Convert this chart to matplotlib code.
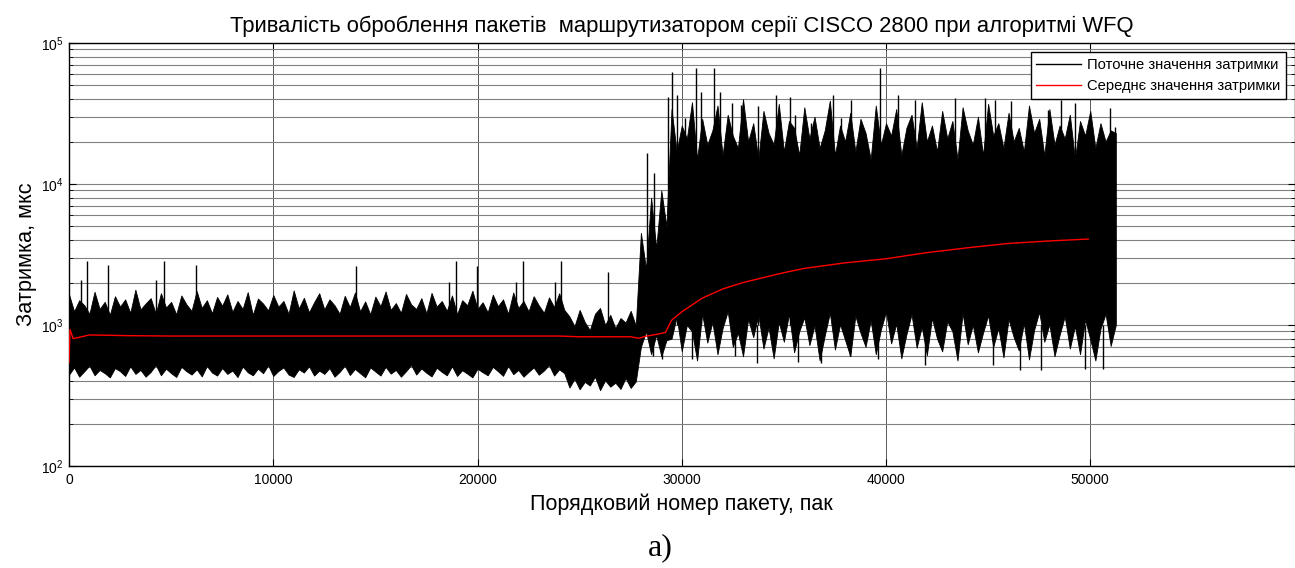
import matplotlib
matplotlib.use("Agg")
import matplotlib.pyplot as plt
from matplotlib.ticker import NullFormatter, LogLocator

plt.rcParams['font.family'] = ['Liberation Sans', 'DejaVu Sans']

# upper / lower edge of the black trace, every 250 packets
step = 250
low_top = [1650, 1250, 1500, 1380, 1200, 1720, 1300, 1460, 1180, 1600,
           1350, 1520, 1220, 1780, 1290, 1420, 1550, 1200, 1680, 1330,
           1460, 1190, 1620, 1400, 1260, 1740, 1320, 1500, 1210, 1580,
           1370, 1650, 1240, 1480, 1300, 1710, 1180, 1540, 1420, 1270,
           1630, 1350, 1480, 1200, 1760, 1310, 1560, 1230, 1450, 1680,
           1290, 1520, 1380, 1200, 1610, 1340, 1700, 1250, 1470, 1190,
           1590, 1360, 1730, 1280, 1430, 1220, 1660, 1400, 1300, 1550,
           1210, 1690, 1350, 1480, 1260, 1620, 1190, 1500, 1380, 1750,
           1300, 1450, 1230, 1640, 1360, 1520, 1200, 1700, 1320, 1480,
           1250, 1600, 1380, 1220, 1570, 1340, 1680, 1280]
low_bot = [445, 500, 430, 470, 515, 440, 480, 455, 425, 495,
           470, 435, 510, 450, 480, 430, 465, 520, 440, 490,
           455, 428, 505, 470, 445, 485, 432, 512, 460, 438,
           495, 450, 475, 427, 508, 462, 440, 490, 455, 518,
           435, 472, 500, 445, 428, 485, 460, 510, 438, 475,
           450, 495, 430, 465, 515, 442, 488, 455, 426, 500,
           468, 438, 505, 452, 480, 430, 470, 520, 445, 492,
           458, 432, 498, 465, 440, 510, 435, 478, 452, 425,
           490, 462, 440, 505, 470, 436, 512, 448, 480, 430,
           465, 500, 444, 475, 520, 438, 485, 455]
dip_top = [1150, 980, 1280, 1050, 920, 1200, 1320, 1000, 1180, 950, 1120, 1040, 1260, 990]
dip_bot = [360, 415, 350, 395, 372, 430, 345, 405, 365, 390, 352, 420, 358, 398]
jump_top = [4500, 2500, 8000, 3500, 9000, 5000]
jump_bot = [700, 900, 620, 850, 600, 780]
high_top = [34000, 17000, 26000, 21000, 38000, 15000, 29000, 19000, 24000, 36000,
            16000, 31000, 22000, 18000, 40000, 20000, 27000, 15000, 33000, 23000,
            19000, 37000, 17000, 28000, 25000, 16000, 35000, 21000, 30000, 18000,
            24000, 39000, 16000, 26000, 20000, 32000, 17000, 29000, 23000, 15000,
            36000, 19000, 27000, 22000, 34000, 16000, 25000, 31000, 18000, 38000,
            20000, 26000, 17000, 33000, 21000, 28000, 15000, 35000, 24000, 19000,
            30000, 16000, 37000, 22000, 27000, 18000, 32000, 20000, 25000, 17000,
            36000, 23000, 29000, 16000, 34000, 19000, 26000, 21000, 31000, 15000,
            28000, 22000, 33000, 18000, 27000, 20000, 24000, 23000]
high_bot = [800, 1150, 650, 1000, 900, 560, 1200, 750, 1050, 620,
            950, 1250, 700, 880, 600, 1100, 820, 1180, 680, 960,
            580, 1050, 760, 1200, 640, 900, 1130, 720, 990, 560,
            840, 1220, 670, 1010, 780, 600, 1160, 880, 700, 1080,
            620, 930, 1240, 740, 1020, 580, 860, 1190, 690, 970,
            610, 1120, 800, 650, 1060, 900, 560, 1210, 730, 1000,
            640, 880, 1170, 700, 950, 590, 1100, 820, 660, 1030,
            570, 920, 1240, 760, 1010, 600, 850, 1150, 680, 980,
            620, 1090, 790, 560, 940, 1200, 710, 1000]

# isolated tall peaks and deep dips of the black trace
peak_x = [570, 860, 1900, 4280, 4640, 6240, 14050, 18600, 18940, 19960, 21900, 22250,
          23780, 24070, 26400, 28300, 28650, 29310, 29500, 29750, 30140, 30710, 30960,
          31600, 31880, 32450, 32880, 33750, 34630, 35320, 35560, 36350, 37420, 37820,
          38300, 39700, 40600, 41420, 43370, 44840, 45330, 46120, 47920, 48560, 49240,
          50950, 51200]
peak_y = [2070, 2860, 2660, 2070, 2860, 2660, 2600, 2030, 2850, 2600, 2030, 2850,
          2030, 2850, 2380, 16600, 12000, 41500, 62600, 42800, 29400, 66000, 44800,
          66000, 44800, 37500, 36500, 35500, 42800, 41500, 30900, 27000, 42800, 29400,
          39500, 66000, 42800, 39500, 40500, 40500, 39500, 38500, 33400, 39500, 37500,
          34500, 25400]
dip_x = [28600, 29050, 30480, 32600, 33660, 35700, 36830, 38230, 39620, 41900,
         45240, 46540, 47580, 49720, 50620]
dip_y = [600, 570, 570, 600, 540, 545, 540, 600, 570, 520,
         520, 480, 480, 490, 490]

# running mean (red)
mean_x = [0, 50, 200, 1000, 3000, 5000, 10000, 20000, 24000, 25000, 27500, 27900,
          28200, 28800, 29200, 29500, 30000, 31000, 32000, 33000, 34000, 35000,
          36000, 38000, 40000, 42000, 44000, 46000, 48000, 49900]
mean_y = [540, 930, 800, 850, 840, 835, 835, 835, 835, 825, 825, 805,
          830, 860, 885, 1080, 1240, 1550, 1800, 2000, 2170, 2350,
          2520, 2760, 2950, 3260, 3530, 3790, 3945, 4070]

band_top = low_top + dip_top + jump_top + high_top
band_bot = low_bot + dip_bot + jump_bot + high_bot
band_x = [i * step for i in range(len(band_top))]

fig = plt.figure(figsize=(12.95, 5.68), dpi=100)
ax = fig.add_axes([69 / 1295, 102 / 568, (1294.5 - 69) / 1295, 423 / 568])

ax.fill_between(band_x, band_bot, band_top, color='black', lw=0.6, edgecolor='black', zorder=2)
ax.vlines(peak_x, 1000, peak_y, color='black', lw=1, zorder=2)
ax.vlines(dip_x, dip_y, 1000, color='black', lw=1, zorder=2)
cur_line, = ax.plot([], [], color='black', lw=1, label='Поточне значення затримки')
mean_line, = ax.plot(mean_x, mean_y, color='red', lw=1, zorder=3,
                     label='Середнє значення затримки')

ax.set_yscale('log')
ax.set_ylim(100, 1e5)
ax.set_xlim(0, 60000)
ax.set_xticks([0, 10000, 20000, 30000, 40000, 50000])
ax.yaxis.set_minor_locator(LogLocator(base=10, subs=range(2, 10)))
ax.yaxis.set_minor_formatter(NullFormatter())
ax.tick_params(which='both', direction='in', top=True, right=True, labelsize=10)
ax.tick_params(axis='x', pad=5)
ax.tick_params(axis='y', pad=4)
ax.tick_params(which='major', length=5)
ax.tick_params(which='minor', length=3)
ax.grid(True, which='major', axis='x', color='0.35', lw=0.7)
ax.grid(True, which='both', axis='y', color='0.5', lw=0.8)
ax.set_axisbelow(True)
for sp in ax.spines.values():
    sp.set_linewidth(1)

ax.set_title('Тривалість оброблення пакетів  маршрутизатором серії CISCO 2800 при алгоритмі WFQ',
             fontsize=15.8, pad=8)
ax.set_xlabel('Порядковий номер пакету, пак', fontsize=15.5, labelpad=5)
ax.set_ylabel('Затримка, мкс', fontsize=15.7, labelpad=3)

leg = ax.legend(handles=[cur_line, mean_line], loc='upper right', fontsize=10.6,
                frameon=True, fancybox=False, edgecolor='black', framealpha=1,
                handlelength=3.0, handletextpad=0.4, borderaxespad=0.6,
                labelspacing=0.5)
leg.get_frame().set_linewidth(1)

fig.text(660 / 1295, 1 - 548 / 568, 'а)', fontsize=23, family='Liberation Serif',
         ha='center', va='center')

fig.savefig('out.png', dpi=100)
